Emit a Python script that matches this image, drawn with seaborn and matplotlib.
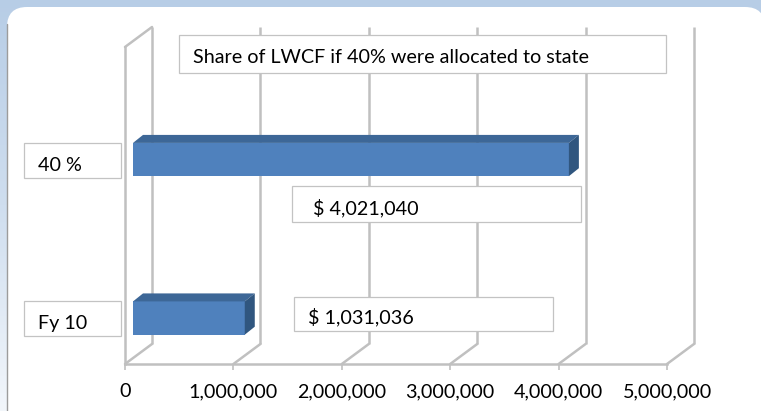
import numpy as np
import pandas as pd
import matplotlib
matplotlib.use("Agg")
import matplotlib.pyplot as plt
import seaborn as sns
from matplotlib.patches import FancyBboxPatch, Rectangle, Polygon
from matplotlib.transforms import ScaledTranslation
from matplotlib.colors import LinearSegmentedColormap
from matplotlib.ticker import FuncFormatter

# data
categories = ["40 %", "Fy 10"]
values = [4021040, 1031036]
x_ticks = [0, 1000000, 2000000, 3000000, 4000000, 5000000]
title = "Share of LWCF if 40% were allocated to state"

sns.set_theme(style="white")
plt.rcParams["font.family"] = ["Lato", "DejaVu Sans"]

W, H = 761, 411
FS = 14.2
grid_c = "#c0c0c0"
fig = plt.figure(figsize=(W / 100, H / 100), dpi=100)

# background: blue gradient + white rounded panel
bg = fig.add_axes([0, 0, 1, 1], zorder=0)
cmap = LinearSegmentedColormap.from_list("bgblue", ["#b7cde6", "#cfdeef", "#f2f6fb"])
bg.imshow(np.linspace(0, 1, 256).reshape(-1, 1), cmap=cmap, extent=[0, W, H, 0], aspect="auto")
bg.add_patch(FancyBboxPatch((7, 7), 758, 450, boxstyle="round,pad=0,rounding_size=20",
                            fc="white", ec="none"))
bg.plot([6.5, 6.5], [24, H], color="#9c9c9c", lw=1.0)
bg.set_xlim(0, W)
bg.set_ylim(H, 0)
bg.axis("off")

# main axes = front plane of the 3d box
ax = fig.add_axes([125 / W, (H - 364) / H, 542 / W, 317 / H], zorder=1)
ax.patch.set_visible(False)
df = pd.DataFrame({"category": categories, "value": values})
sns.barplot(data=df, x="value", y="category", orient="h", color="#4f81bd",
            saturation=1, width=0.21, linewidth=0, edgecolor="none", ax=ax)

xmin, xmax = 0, 5000000
y_lo, y_hi = 1.252, -0.748
ax.set_xlim(xmin, xmax)
ax.set_ylim(y_lo, y_hi)

def dx(px):
    return px * (xmax - xmin) / ax.bbox.width

def dy(px):
    # positive px = upwards on screen (y axis inverted)
    return -px * (y_lo - y_hi) / ax.bbox.height

# back wall gridlines + floor diagonals
for t in x_ticks:
    ax.plot([t + dx(27), t + dx(27)], [y_lo + dy(20), y_hi + dy(20)], color=grid_c,
            lw=1.8, clip_on=False, zorder=0.5, solid_capstyle="butt")
    ax.plot([t, t + dx(27)], [y_lo, y_lo + dy(20)], color=grid_c, lw=1.8,
            clip_on=False, zorder=0.5)
# top edge of left wall
ax.plot([0, dx(27)], [y_hi, y_hi + dy(20)], color=grid_c, lw=1.8, clip_on=False, zorder=0.5)

# 3d bars: shift front face into the box, add top and side faces
shift = ScaledTranslation(8 / 100, 6 / 100, fig.dpi_scale_trans)
for p in ax.patches:
    p.set_transform(ax.transData + shift)
    p.set_clip_on(False)
    p.set_zorder(2)
    x0, y0 = p.get_x(), p.get_y()
    x1, y1 = x0 + p.get_width(), y0 + p.get_height()
    top = [(x0, y0), (x1, y0), (x1 + dx(10), y0 + dy(8)), (x0 + dx(10), y0 + dy(8))]
    side = [(x1, y0), (x1, y1), (x1 + dx(10), y1 + dy(8)), (x1 + dx(10), y0 + dy(8))]
    ax.add_patch(Polygon(top, closed=True, fc="#3d6797", ec="none",
                         transform=ax.transData + shift, clip_on=False, zorder=2))
    ax.add_patch(Polygon(side, closed=True, fc="#30567f", ec="none",
                         transform=ax.transData + shift, clip_on=False, zorder=2))

for s in ["top", "right"]:
    ax.spines[s].set_visible(False)
for s in ["left", "bottom"]:
    ax.spines[s].set_color(grid_c)
    ax.spines[s].set_linewidth(1.8)

ax.set_xticks(x_ticks)
ax.xaxis.set_major_formatter(FuncFormatter(lambda v, _: f"{v:,.0f}"))
ax.tick_params(axis="x", bottom=True, length=4, width=1.2, color=grid_c, pad=10,
               labelsize=FS, labelcolor="black")
ax.set_yticks([])
ax.set_xlabel("")
ax.set_ylabel("")
ax.set_xlim(xmin, xmax)
ax.set_ylim(y_lo, y_hi)

# overlay: text boxes
fg = fig.add_axes([0, 0, 1, 1], zorder=3)
fg.set_xlim(0, W)
fg.set_ylim(H, 0)
fg.axis("off")
fg.patch.set_visible(False)

def box(x0, y0, x1, y1):
    fg.add_patch(Rectangle((x0, y0), x1 - x0, y1 - y0, fc="white", ec="#c3c3c3", lw=0.9))

box(179, 35, 666, 73)
fg.text(193, 63, title, fontsize=FS, va="baseline", ha="left", color="black")

for i, c in enumerate(categories):
    y_px = H - ax.transData.transform((0, i))[1]
    box(24, y_px - 23, 121, y_px + 12)
    fg.text(38, y_px + 5, c, fontsize=FS, va="baseline", ha="left", color="black")

val_boxes = [(292, 186, 581, 222, 313), (294, 297, 553, 331, 308)]
for v, (bx0, by0, bx1, by1, tx) in zip(values, val_boxes):
    box(bx0, by0, bx1, by1)
    fg.text(tx, by1 - 8, f"$ {v:,.0f}", fontsize=FS, va="baseline", ha="left", color="black")

fig.savefig("out.png", dpi=100)
